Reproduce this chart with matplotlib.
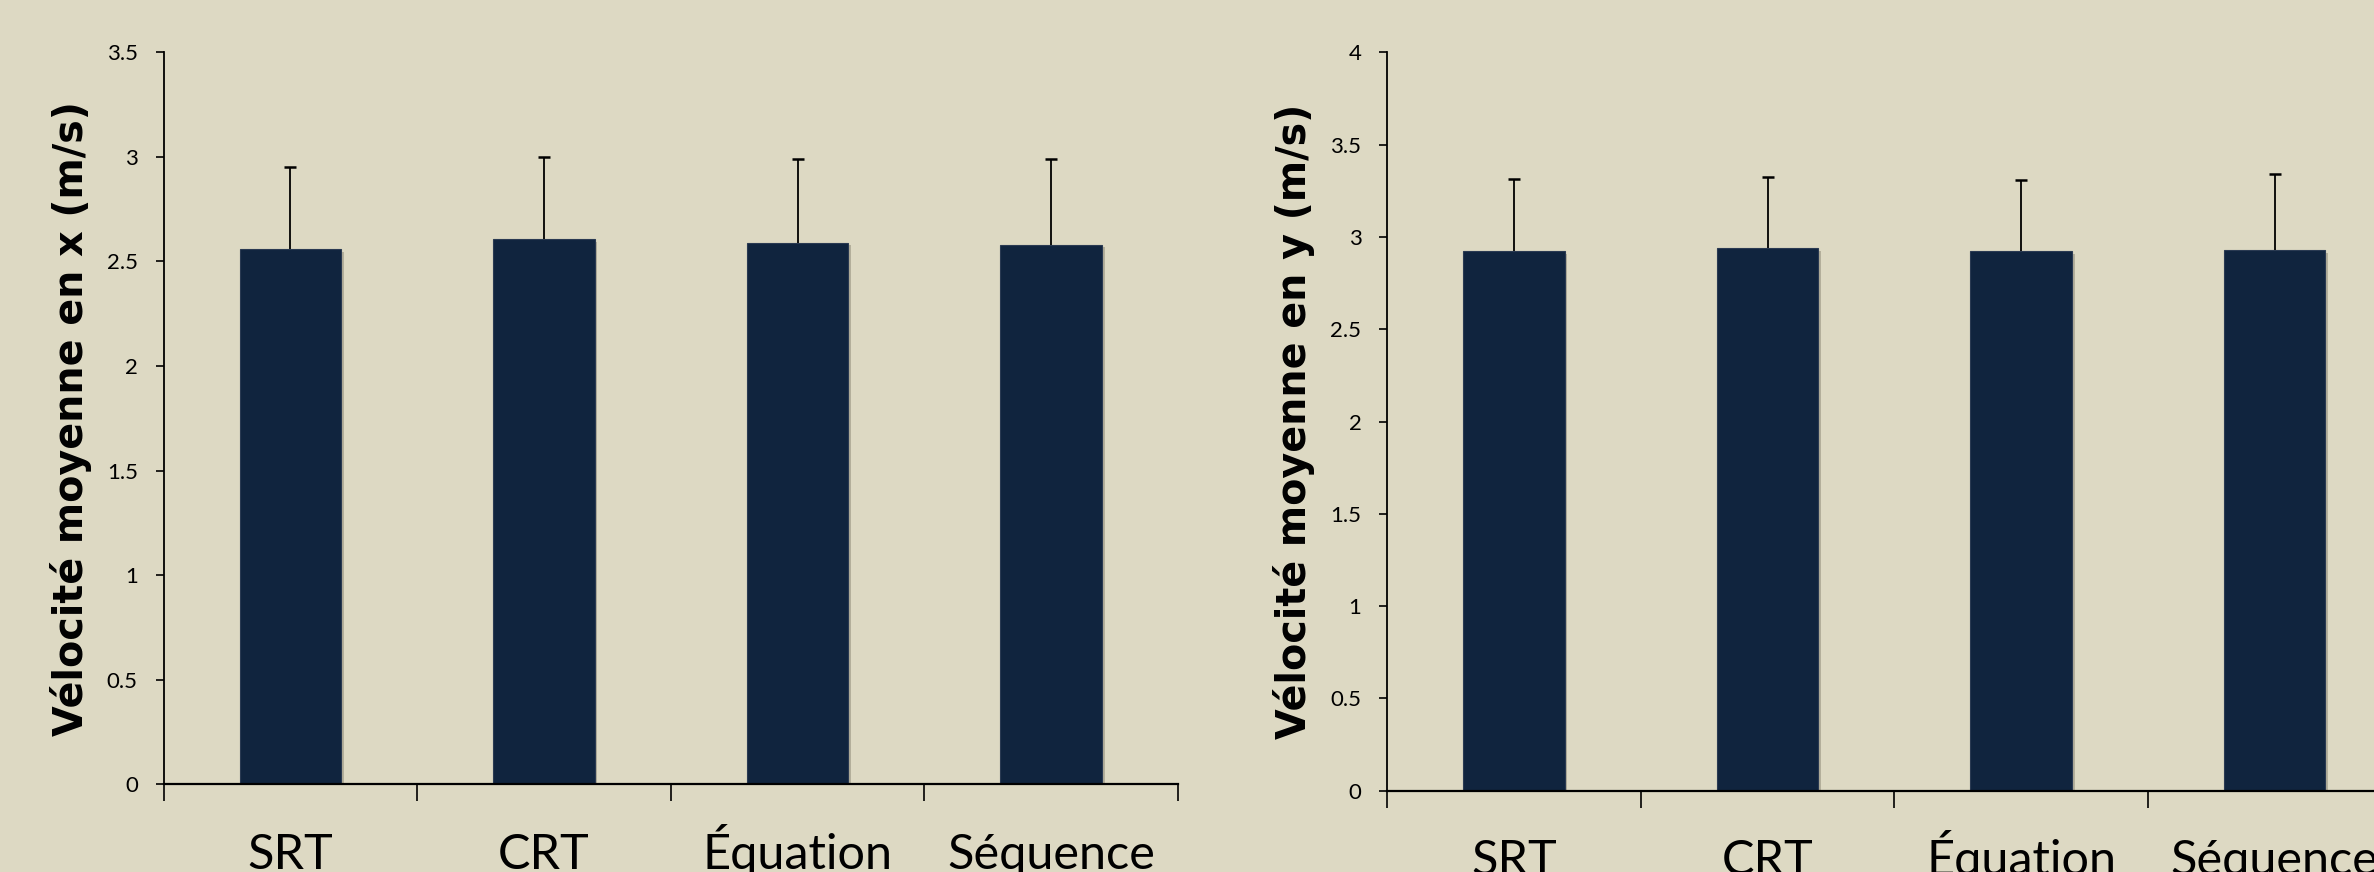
import matplotlib
matplotlib.use("Agg")
import matplotlib.pyplot as plt
import matplotlib.patheffects as pe
from matplotlib import font_manager
import numpy as np

# Données : vélocité moyenne (m/s) et écart-type par condition
conditions = ["SRT", "CRT", "Équation", "Séquence"]
vel_x = [2.56, 2.605, 2.59, 2.58]
err_x = [0.39, 0.393, 0.398, 0.41]
vel_y = [2.925, 2.94, 2.924, 2.929]
err_y = [0.39, 0.382, 0.384, 0.41]

yticks_x = [0, 0.5, 1, 1.5, 2, 2.5, 3, 3.5]
yticks_y = [0, 0.5, 1, 1.5, 2, 2.5, 3, 3.5, 4]
ylabel_x = "Vélocité moyenne en x (m/s)"
ylabel_y = "Vélocité moyenne en y (m/s)"

fond = "#ddd9c3"
barre = "#10243e"

noms = {f.name for f in font_manager.fontManager.ttflist}
police = "Liberation Sans Narrow" if "Liberation Sans Narrow" in noms else "Lato"

fig = plt.figure(figsize=(23.74, 8.72), dpi=100)
fig.patch.set_facecolor(fond)

ax1 = fig.add_axes([0.0689, 0.1006, 0.4273, 0.8394])
ax2 = fig.add_axes([0.5843, 0.0932, 0.4273, 0.8468])


def tracer(ax, valeurs, erreurs, ticks, titre):
    ax.set_facecolor(fond)
    pos = np.arange(len(conditions))
    bars = ax.bar(pos, valeurs, width=0.4, color=barre, edgecolor="#2a3a52",
                  linewidth=0.8, zorder=2)
    for b in bars:
        b.set_path_effects([pe.SimplePatchShadow(offset=(2, -2), shadow_rgbFace="#8a8674", alpha=0.5),
                            pe.Normal()])
    # barres d'erreur vers le haut seulement
    _, caps, _ = ax.errorbar(pos, valeurs, yerr=[np.zeros(len(valeurs)), erreurs], fmt="none",
                             ecolor="black", elinewidth=1.3, capsize=4.5, capthick=1.8, zorder=3)
    for c in caps:
        if np.allclose(c.get_ydata(), valeurs):
            c.set_visible(False)

    ax.set_xlim(-0.5, len(conditions) - 0.5)
    ax.set_ylim(0, ticks[-1])
    ax.set_yticks(ticks)
    ax.set_yticklabels([f"{t:g}" for t in ticks], fontsize=16, family=police)
    ax.tick_params(axis="y", length=5.5, width=1.2, pad=13)

    # graduations entre les catégories, étiquettes au centre
    ax.set_xticks(np.arange(len(conditions) + 1) - 0.5)
    ax.set_xticklabels([])
    ax.tick_params(axis="x", which="major", length=12, width=1.2)
    ax.set_xticks(pos, minor=True)
    ax.set_xticklabels(conditions, minor=True, fontsize=35, family=police)
    ax.tick_params(axis="x", which="minor", length=0, pad=61)
    for lab in ax.get_xticklabels(minor=True):
        lab.set_verticalalignment("baseline")

    for s in ["top", "right"]:
        ax.spines[s].set_visible(False)
    ax.spines["left"].set_linewidth(1.3)
    ax.spines["bottom"].set_linewidth(1.6)

    ax.set_ylabel(titre, fontsize=28.5, fontweight="bold", family="DejaVu Sans")
    ax.yaxis.set_label_coords(-0.071, 0.5)


tracer(ax1, vel_x, err_x, yticks_x, ylabel_x)
tracer(ax2, vel_y, err_y, yticks_y, ylabel_y)

fig.savefig("out.png", dpi=100, facecolor=fond)
